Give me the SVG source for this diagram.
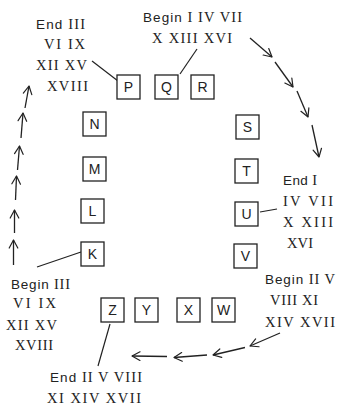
<svg xmlns="http://www.w3.org/2000/svg" width="337" height="407" viewBox="0 0 337 407">
<defs>
<marker id="ah" viewBox="-10 -6 12 12" refX="0" refY="0" markerWidth="12" markerHeight="12" markerUnits="userSpaceOnUse" orient="auto">
<path d="M-8,-4.3 L0,0 L-8,4.3" fill="none" stroke="#222" stroke-width="1.2" stroke-linecap="round" stroke-linejoin="round"/>
</marker>
</defs>
<style>
.box rect{fill:#fff;stroke:#222;stroke-width:1.3}
.box text{font-family:"Liberation Sans",Arial,sans-serif;font-size:14px;fill:#222;text-anchor:middle}
.lbl{font-family:"Liberation Serif","Times New Roman",serif;font-size:14.5px;fill:#222}
.w{font-family:"Liberation Sans",Arial,sans-serif;font-size:13.5px}
.con line{stroke:#222;stroke-width:1.2;fill:none}
.arr line{marker-end:url(#ah);stroke-width:1.3}
</style>
<rect width="337" height="407" fill="#fff"/>
<g class="con">
<line x1="92" y1="61" x2="118" y2="81"/>
<line x1="197" y1="49" x2="180" y2="74"/>
<line x1="260" y1="212" x2="277" y2="209"/>
<line x1="81" y1="252" x2="37" y2="267"/>
<line x1="110" y1="324" x2="98" y2="366"/>
<g class="arr">
<line x1="250" y1="38" x2="272" y2="57"/>
<line x1="275" y1="62" x2="293" y2="87"/>
<line x1="297" y1="91" x2="308" y2="117"/>
<line x1="312" y1="125" x2="319" y2="157"/>
<line x1="280" y1="333" x2="250" y2="346"/>
<line x1="245" y1="347.5" x2="213" y2="355"/>
<line x1="207" y1="355" x2="174" y2="357.5"/>
<line x1="167" y1="356.5" x2="132" y2="356"/>
<line x1="13.5" y1="265" x2="13.5" y2="240"/>
<line x1="14.5" y1="233" x2="14.5" y2="210"/>
<line x1="15.5" y1="200" x2="16.5" y2="176"/>
<line x1="17.5" y1="170" x2="19.5" y2="146"/>
<line x1="21" y1="138" x2="23" y2="113"/>
<line x1="25" y1="108" x2="29" y2="86"/>
</g>
</g>
<g id="P" class="box"><rect x="117" y="75" width="23" height="24"/><text x="128.5" y="92">P</text></g>
<g id="Q" class="box"><rect x="155" y="75" width="23" height="24"/><text x="166.5" y="92">Q</text></g>
<g id="R" class="box"><rect x="191" y="75" width="23" height="24"/><text x="202.5" y="92">R</text></g>
<g id="N" class="box"><rect x="83" y="112" width="23" height="24"/><text x="94.5" y="129">N</text></g>
<g id="M" class="box"><rect x="83" y="157" width="23" height="24"/><text x="94.5" y="174">M</text></g>
<g id="L" class="box"><rect x="81" y="199" width="23" height="24"/><text x="92.5" y="216">L</text></g>
<g id="K" class="box"><rect x="81" y="242" width="23" height="24"/><text x="92.5" y="259">K</text></g>
<g id="S" class="box"><rect x="236" y="115" width="23" height="24"/><text x="247.5" y="132">S</text></g>
<g id="T" class="box"><rect x="235" y="159" width="23" height="24"/><text x="246.5" y="176">T</text></g>
<g id="U" class="box"><rect x="235" y="202" width="23" height="24"/><text x="246.5" y="219">U</text></g>
<g id="V" class="box"><rect x="234" y="244" width="23" height="24"/><text x="245.5" y="261">V</text></g>
<g id="Z" class="box"><rect x="101" y="298" width="23" height="24"/><text x="112.5" y="315">Z</text></g>
<g id="Y" class="box"><rect x="135" y="298" width="23" height="24"/><text x="146.5" y="315">Y</text></g>
<g id="X" class="box"><rect x="177" y="298" width="23" height="24"/><text x="188.5" y="315">X</text></g>
<g id="W" class="box"><rect x="212" y="298" width="23" height="24"/><text x="223.5" y="315">W</text></g>
<g id="label-end-iii" class="lbl">
<text x="36" y="28.5" textLength="49" lengthAdjust="spacing"><tspan class="w">End</tspan> III</text>
<text x="44" y="48.5" textLength="41" lengthAdjust="spacing">VI IX</text>
<text x="36" y="69.5" textLength="51" lengthAdjust="spacing">XII XV</text>
<text x="47" y="91" textLength="41" lengthAdjust="spacing">XVIII</text>
</g>
<g id="label-begin-i" class="lbl">
<text x="143" y="21.5" textLength="99" lengthAdjust="spacing"><tspan class="w">Begin</tspan> I IV VII</text>
<text x="152" y="43" textLength="80" lengthAdjust="spacing">X XIII XVI</text>
</g>
<g id="label-end-i" class="lbl">
<text x="283" y="185" textLength="34" lengthAdjust="spacing"><tspan class="w">End</tspan> I</text>
<text x="283" y="206" textLength="50" lengthAdjust="spacing">IV VII</text>
<text x="283" y="226.5" textLength="50" lengthAdjust="spacing">X XIII</text>
<text x="287" y="248" textLength="26" lengthAdjust="spacing">XVI</text>
</g>
<g id="label-begin-ii" class="lbl">
<text x="265" y="283.5" textLength="70" lengthAdjust="spacing"><tspan class="w">Begin</tspan> II V</text>
<text x="270" y="305" textLength="48" lengthAdjust="spacing">VIII XI</text>
<text x="265" y="326.5" textLength="70" lengthAdjust="spacing">XIV XVII</text>
</g>
<g id="label-begin-iii" class="lbl">
<text x="11" y="288.5" textLength="59" lengthAdjust="spacing"><tspan class="w">Begin</tspan> III</text>
<text x="13" y="308" textLength="43" lengthAdjust="spacing">VI IX</text>
<text x="6" y="329.5" textLength="51" lengthAdjust="spacing">XII XV</text>
<text x="15" y="350" textLength="38" lengthAdjust="spacing">XVIII</text>
</g>
<g id="label-end-ii" class="lbl">
<text x="50" y="381.5" textLength="92" lengthAdjust="spacing"><tspan class="w">End</tspan> II V VIII</text>
<text x="47" y="402.5" textLength="94" lengthAdjust="spacing">XI XIV XVII</text>
</g>
</svg>
